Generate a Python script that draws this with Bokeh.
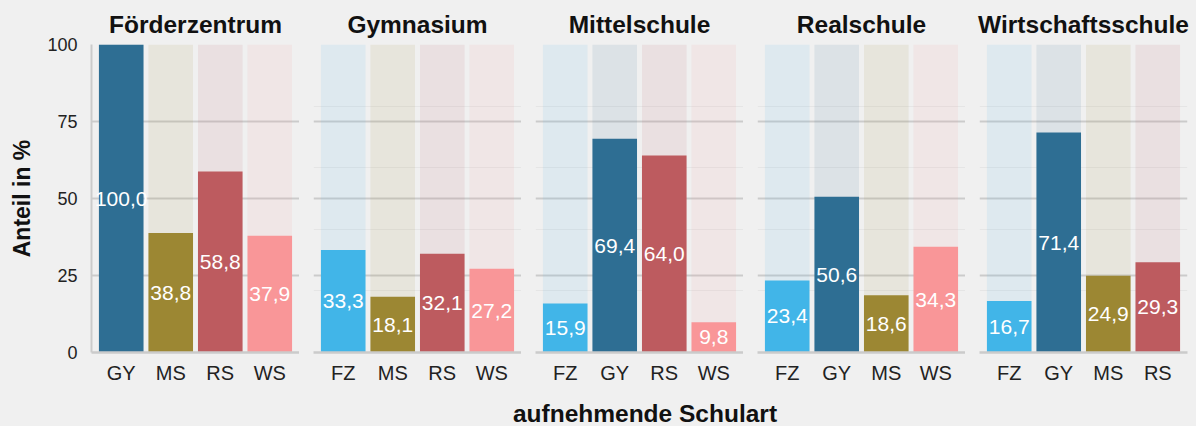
from bokeh.plotting import figure
from bokeh.models import Range1d, FixedTicker, Grid, ColumnDataSource, Div
from bokeh.layouts import row, column
from bokeh.embed import file_html
from bokeh.resources import INLINE

# ---- data ----
panels = ["Förderzentrum", "Gymnasium", "Mittelschule", "Realschule", "Wirtschaftsschule"]
cats_foerderzentrum = ["GY", "MS", "RS", "WS"]
vals_foerderzentrum = [100.0, 38.8, 58.8, 37.9]
cats_gymnasium = ["FZ", "MS", "RS", "WS"]
vals_gymnasium = [33.3, 18.1, 32.1, 27.2]
cats_mittelschule = ["FZ", "GY", "RS", "WS"]
vals_mittelschule = [15.9, 69.4, 64.0, 9.8]
cats_realschule = ["FZ", "GY", "MS", "WS"]
vals_realschule = [23.4, 50.6, 18.6, 34.3]
cats_wirtschaftsschule = ["FZ", "GY", "MS", "RS"]
vals_wirtschaftsschule = [16.7, 71.4, 24.9, 29.3]
y_ticks = [0, 25, 50, 75, 100]
y_max = 100
x_title = "aufnehmende Schulart"
y_title = "Anteil in %"

panel_cats = [cats_foerderzentrum, cats_gymnasium, cats_mittelschule, cats_realschule, cats_wirtschaftsschule]
panel_vals = [vals_foerderzentrum, vals_gymnasium, vals_mittelschule, vals_realschule, vals_wirtschaftsschule]

colors = {"FZ": "#41b5e8", "GY": "#2e6e93", "MS": "#9c8733", "RS": "#bd5b5f", "WS": "#f99698"}

BG = "#f0f0f0"
GRID = "#cbcbcb"
FONT = "Liberation Sans"

figs = []
n = len(panels)
for i, (name, cats, vals) in enumerate(zip(panels, panel_cats, panel_vals)):
    first = i == 0
    last = i == n - 1
    p = figure(
        frame_width=208, frame_height=308,
        min_border_left=91 if first else 14, min_border_right=6 if last else 0,
        min_border_top=44, min_border_bottom=36,
        x_range=Range1d(-0.6, len(cats) - 0.4), y_range=Range1d(0, y_max),
        output_backend="svg", toolbar_location=None,
        y_axis_location="left" if first else None,
        background_fill_color=BG, border_fill_color=BG,
        outline_line_color=None,
    )
    xs = list(range(len(cats)))
    src = ColumnDataSource(dict(
        x=xs, top=vals, full=[y_max] * len(cats),
        mid=[v / 2 for v in vals],
        lab=[f"{v:.1f}".replace(".", ",") for v in vals],
        color=[colors[c] for c in cats],
    ))
    p.vbar(x="x", top="full", width=0.9, fill_color="color", fill_alpha=0.1, line_color=None, source=src)
    p.vbar(x="x", top="top", width=0.9, fill_color="color", line_color=None, source=src)
    p.text(x="x", y="mid", text="lab", text_color="white", text_font_size="21px",
           text_align="center", text_baseline="middle", source=src)

    # title
    p.title.text = name
    p.title.align = "center"
    p.title.text_font = FONT
    p.title.text_font_size = "24.5px"
    p.title.text_font_style = "bold"
    p.title.text_color = "#111111"
    p.title.standoff = 14

    # x axis
    ax = p.xaxis[0]
    ax.ticker = FixedTicker(ticks=xs)
    ax.major_label_overrides = {x: c for x, c in zip(xs, cats)}
    ax.major_tick_line_color = None
    ax.minor_tick_line_color = None
    ax.axis_line_color = GRID
    ax.axis_line_width = 2.5
    ax.major_label_text_font = FONT
    ax.major_label_text_font_size = "20px"
    ax.major_label_text_color = "#222222"
    ax.major_label_standoff = 3
    p.xgrid.visible = False

    if first:
        yax = p.yaxis[0]
        yax.ticker = FixedTicker(ticks=y_ticks)
        yax.major_tick_line_color = None
        yax.minor_tick_line_color = None
        yax.axis_line_color = GRID
        yax.axis_line_width = 2
        yax.major_label_text_font = FONT
        yax.major_label_text_font_size = "18px"
        yax.major_label_text_color = "#222222"
        yax.major_label_standoff = 8
        yax.axis_label = y_title
        yax.axis_label_text_font = FONT
        yax.axis_label_text_font_size = "23px"
        yax.axis_label_text_font_style = "bold"
        yax.axis_label_text_color = "#111111"
        yax.axis_label_standoff = 9
        p.ygrid.grid_line_color = GRID
        p.ygrid.grid_line_width = 2
    else:
        p.add_layout(Grid(dimension=1, ticker=FixedTicker(ticks=y_ticks),
                          grid_line_color=GRID, grid_line_width=2))
    figs.append(p)

title_div = Div(
    text=(f'<div style="width:1096px;margin-left:92px;text-align:center;'
          f'font-family:\'Liberation Sans\',Arial,sans-serif;font-size:24.5px;font-weight:bold;'
          f'color:#111111;line-height:24px;padding-top:9px;white-space:nowrap;">{x_title}</div>'),
    width=1190, height=32,
)

layout = column(row(*figs, spacing=0), title_div, spacing=0)
layout.styles = {"background-color": BG}

html = file_html(layout, INLINE)
html = html.replace("<body>", '<body style="background-color:#f0f0f0;">')
open("out.html", "w").write(html)
